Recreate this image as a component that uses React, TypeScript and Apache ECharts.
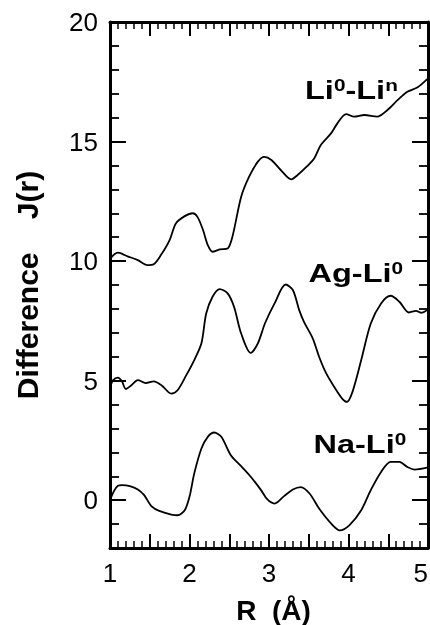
import React, { useEffect, useRef } from "react";
import * as echarts from "echarts";

// R (Å), J(r) pairs
const liLiData: [number, number][] = [
  [1.0, 10.1], [1.1, 10.35], [1.22, 10.2], [1.35, 10.04], [1.47, 9.83], [1.55, 9.87],
  [1.64, 10.25], [1.75, 10.88], [1.83, 11.58], [1.94, 11.88], [2.04, 12.0], [2.1, 11.85],
  [2.17, 11.3], [2.23, 10.67], [2.29, 10.39], [2.38, 10.49], [2.48, 10.53], [2.54, 11.02],
  [2.65, 12.69], [2.75, 13.53], [2.86, 14.16], [2.94, 14.36], [3.03, 14.23], [3.15, 13.8],
  [3.28, 13.42], [3.36, 13.6], [3.48, 13.97], [3.57, 14.3], [3.65, 14.85], [3.78, 15.34],
  [3.86, 15.76], [3.97, 16.15], [4.07, 16.04], [4.2, 16.11], [4.36, 16.04], [4.49, 16.32],
  [4.62, 16.74], [4.74, 17.08], [4.87, 17.27], [5.0, 17.64],
];

const agLiData: [number, number][] = [
  [1.0, 4.72], [1.04, 5.02], [1.1, 5.13], [1.15, 4.97], [1.2, 4.65], [1.27, 4.81],
  [1.35, 5.02], [1.45, 4.9], [1.55, 4.97], [1.65, 4.8], [1.77, 4.46], [1.85, 4.6],
  [1.96, 5.23], [2.06, 5.86], [2.15, 6.56], [2.21, 7.81], [2.29, 8.51], [2.38, 8.83],
  [2.48, 8.65], [2.56, 8.09], [2.65, 6.97], [2.77, 6.16], [2.86, 6.56], [2.95, 7.4],
  [3.07, 8.23], [3.21, 9.02], [3.3, 8.79], [3.38, 7.95], [3.44, 7.46], [3.55, 6.77],
  [3.63, 6.0], [3.72, 5.3], [3.82, 4.74], [3.92, 4.25], [3.98, 4.11], [4.05, 4.53],
  [4.16, 5.86], [4.28, 7.39], [4.41, 8.23], [4.53, 8.55], [4.64, 8.3], [4.76, 7.85],
  [4.85, 7.92], [4.91, 7.84], [5.0, 7.98],
];

const naLiData: [number, number][] = [
  [1.0, 0.0], [1.05, 0.38], [1.1, 0.6], [1.15, 0.63], [1.25, 0.59], [1.35, 0.45],
  [1.43, 0.21], [1.52, -0.25], [1.62, -0.45], [1.77, -0.6], [1.85, -0.63], [1.94, -0.42],
  [2.0, 0.14], [2.06, 1.12], [2.15, 2.16], [2.23, 2.65], [2.31, 2.83], [2.4, 2.65],
  [2.52, 1.88], [2.65, 1.42], [2.77, 0.98], [2.9, 0.42], [2.98, 0.03], [3.07, -0.14],
  [3.19, 0.17], [3.3, 0.45], [3.4, 0.55], [3.51, 0.28], [3.63, -0.35], [3.78, -0.97],
  [3.89, -1.26], [4.01, -1.05], [4.16, -0.42], [4.28, 0.42], [4.41, 1.18], [4.53, 1.6],
  [4.64, 1.6], [4.74, 1.39], [4.83, 1.28], [5.0, 1.37],
];

const majorY = [0, 5, 10, 15, 20];
const yTitle = "Difference    J(r)";
const xTitle = "R  (Å)";

const FONT = "Liberation Sans";
const BLACK = "#000";

function curveSeries(name: string, data: [number, number][]) {
  return {
    name,
    type: "line",
    data,
    xAxisIndex: 0,
    yAxisIndex: 0,
    showSymbol: false,
    smooth: 0.3,
    lineStyle: { color: BLACK, width: 1.8 },
  };
}

function label(x: number, y: number, main1: string, sup1: string, main2: string, sup2: string) {
  const parts: string[] = [];
  if (main1) parts.push(`{m|${main1}}`);
  if (sup1) parts.push(`{s|${sup1}}`);
  if (main2) parts.push(`{m|${main2}}`);
  if (sup2) parts.push(`{s|${sup2}}`);
  return {
    type: "text",
    x,
    y,
    scaleX: 1.3,
    style: {
      text: parts.join(""),
      align: "left",
      verticalAlign: "top",
      fill: BLACK,
      rich: {
        m: { fontFamily: FONT, fontWeight: "bold", fontSize: 25, lineHeight: 26, verticalAlign: "middle", fill: BLACK },
        s: { fontFamily: FONT, fontWeight: "bold", fontSize: 16, lineHeight: 16, verticalAlign: "top", fill: BLACK },
      },
    },
  };
}

function xAxisBase() {
  return {
    type: "value",
    min: 1,
    max: 5,
    interval: 0.5,
    axisLine: { show: true, onZero: false, lineStyle: { color: BLACK, width: 3 } },
    axisTick: { show: true, inside: true, length: 14, lineStyle: { color: BLACK, width: 2 } },
    minorTick: { show: true, splitNumber: 5, length: 7, lineStyle: { color: BLACK, width: 1.5 } },
    splitLine: { show: false },
  };
}

function yMajorBase() {
  return {
    type: "value",
    min: -2,
    max: 20,
    axisLine: { show: true, onZero: false, lineStyle: { color: BLACK, width: 3 } },
    axisTick: { show: true, inside: true, length: 16, customValues: majorY, lineStyle: { color: BLACK, width: 2 } },
    splitLine: { show: false },
  };
}

function yMinorBase() {
  return {
    type: "value",
    min: -2,
    max: 20,
    interval: 1,
    axisLine: { show: false },
    axisTick: { show: true, inside: true, length: 9, lineStyle: { color: BLACK, width: 1.8 } },
    axisLabel: { show: false },
    splitLine: { show: false },
  };
}

export default function App() {
  const ref = useRef<HTMLDivElement>(null);
  useEffect(() => {
    if (!ref.current) return;
    const chart = echarts.init(ref.current, undefined, { renderer: "svg" });
    chart.setOption({
      animation: false,
      grid: { left: 110, right: 2, top: 22, bottom: 77, outerBoundsMode: "none" },
      xAxis: [
        {
          ...xAxisBase(),
          position: "bottom",
          axisLabel: {
            margin: 12,
            color: BLACK,
            fontFamily: FONT,
            fontSize: 26,
            alignMaxLabel: "right",
            formatter: (v: number) => (Math.abs(v - Math.round(v)) < 1e-6 ? String(Math.round(v)) : ""),
          },
          name: xTitle,
          nameLocation: "middle",
          nameGap: 48,
          nameTextStyle: {
            color: BLACK,
            fontFamily: FONT,
            fontWeight: "bold",
            fontSize: 28,
            lineHeight: 28,
            padding: [0, 0, 0, 9],
          },
        },
        { ...xAxisBase(), position: "top", axisLabel: { show: false } },
      ],
      yAxis: [
        {
          ...yMajorBase(),
          position: "left",
          axisLabel: {
            customValues: majorY,
            margin: 12,
            color: BLACK,
            fontFamily: FONT,
            fontSize: 26,
          },
          name: yTitle,
          nameLocation: "middle",
          nameRotate: 90,
          nameGap: 68,
          nameTextStyle: {
            color: BLACK,
            fontFamily: FONT,
            fontWeight: "bold",
            fontSize: 30,
            lineHeight: 30,
          },
        },
        { ...yMinorBase(), position: "left" },
        { ...yMajorBase(), position: "right", axisLabel: { show: false } },
        { ...yMinorBase(), position: "right" },
      ],
      series: [
        curveSeries("Li0-Lin", liLiData),
        curveSeries("Ag-Li0", agLiData),
        curveSeries("Na-Li0", naLiData),
      ],
      graphic: [
        label(305, 77.5, "Li", "0", "-Li", "n"),
        label(308.5, 260, "Ag-Li", "0", "", ""),
        label(313.5, 431.6, "Na-Li", "0", "", ""),
      ],
    });
    return () => chart.dispose();
  }, []);
  return <div ref={ref} style={{ position: "fixed", left: 0, top: 0, width: 430, height: 625 }} />;
}
